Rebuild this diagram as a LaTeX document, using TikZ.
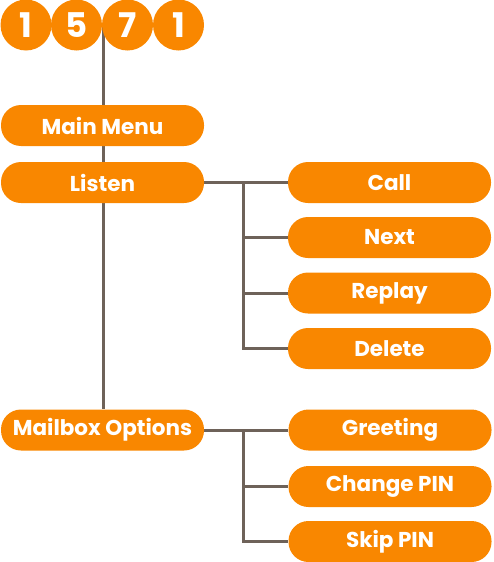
\documentclass[tikz,border=0pt]{standalone}
\usepackage{fontspec}
\setmainfont{Poppins}
\usetikzlibrary{backgrounds}
\definecolor{org}{HTML}{F98700}
\definecolor{ln}{HTML}{6E6259}
\begin{document}
\begin{tikzpicture}[x=1pt,y=1pt,
  pill/.style={fill=org,rounded corners=20pt,minimum width=203pt,minimum height=41pt,inner sep=0pt,text=white,font=\fontsize{21.5}{24}\selectfont\bfseries},
  digit/.style={circle,fill=org,minimum size=51pt,inner sep=0pt,text=white,font=\fontsize{34}{38}\selectfont\bfseries},
  conn/.style={draw=ln,line width=3pt}]
\useasboundingbox (0,0) rectangle (493,-562);
\node[pill] (main) at (102.5,-125.5) {Main Menu};
\node[pill] (listen) at (102.5,-182.5) {Listen};
\node[pill] (mail) at (102.5,-430) {Mailbox Options};
\node[pill] (call) at (389.5,-182.5) {Call};
\node[pill] (next) at (389.5,-237.5) {Next};
\node[pill] (replay) at (389.5,-293) {Replay};
\node[pill] (delete) at (389.5,-348.5) {Delete};
\node[pill] (greet) at (390,-430) {Greeting};
\node[pill] (chpin) at (390,-486.5) {Change PIN};
\node[pill] (skip) at (390,-541.5) {Skip PIN};
\node[digit] (d1) at (26,-25) {1};
\node[digit] (d2) at (76.5,-25) {5};
\node[digit] (d3) at (127.5,-25) {7};
\node[digit] (d4) at (178.5,-25) {1};
\coordinate (top) at (103,-25);
\coordinate (b1) at (243,-182.5);
\coordinate (b2) at (243,-430);
\begin{scope}[on background layer]
\draw[conn] (top) -- (mail.north -| top);
\draw[conn] (listen.east) -- (call.west);
\draw[conn] (b1) |- (delete.west);
\draw[conn] (next.west) -- (next.west -| b1);
\draw[conn] (replay.west) -- (replay.west -| b1);
\draw[conn] (mail.east) -- (greet.west);
\draw[conn] (b2) |- (skip.west);
\draw[conn] (chpin.west) -- (chpin.west -| b2);
\end{scope}
\end{tikzpicture}
\end{document}
